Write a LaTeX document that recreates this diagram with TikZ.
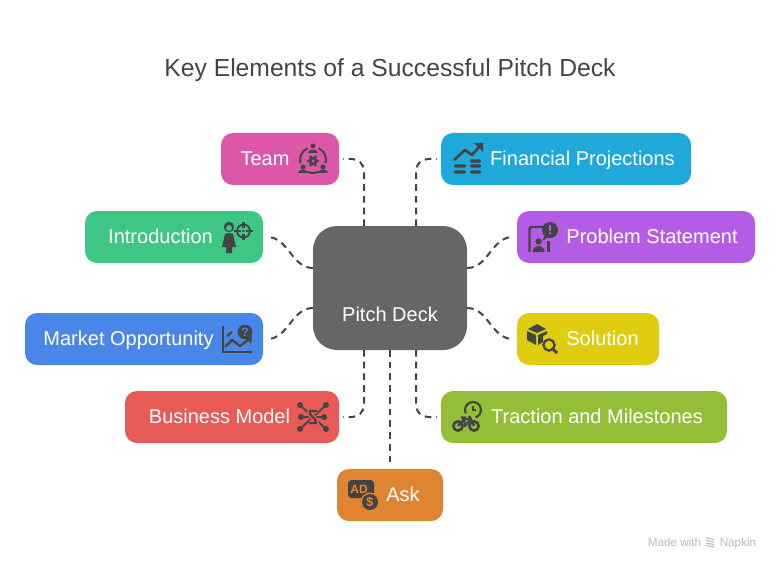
\documentclass[tikz,border=0pt]{standalone}
\usepackage{fontspec}
\setmainfont{Liberation Sans}
\usetikzlibrary{calc,positioning,arrows.meta}
\definecolor{inkc}{HTML}{444444}
\definecolor{deckc}{HTML}{666666}
\definecolor{teamc}{HTML}{DD57A8}
\definecolor{finc}{HTML}{1EA9DA}
\definecolor{introc}{HTML}{3EC685}
\definecolor{probc}{HTML}{B55CE6}
\definecolor{marketc}{HTML}{4A86E8}
\definecolor{solc}{HTML}{E0CD12}
\definecolor{bizc}{HTML}{E85A55}
\definecolor{tracc}{HTML}{94BD38}
\definecolor{askc}{HTML}{DF8431}
\tikzset{
  box/.style={rounded corners=9pt,minimum height=39pt,inner sep=0pt,outer sep=0pt},
  lbl/.style={text=white,font=\fontsize{15pt}{16pt}\selectfont,inner sep=0pt,text height=11pt,text depth=3pt},
  foot/.style={text=black!27,font=\fontsize{8.8pt}{10pt}\selectfont,inner sep=0pt,anchor=base},
  link/.style={draw=inkc,line width=1.5pt,dash pattern=on 5pt off 3.8pt},
  ic/.style={draw=inkc,line width=1.2pt,fill=none},
  icf/.style={fill=inkc,draw=none},
  teamicon/.pic={
    \fill[icf] (0,-13) circle (2.5);
    \draw[ic,line width=1.5pt] (0,1) ++(165:13) arc (165:245:13);
    \draw[ic,line width=1.5pt] (0,1) ++(295:13) arc (295:375:13);
    \draw[ic,line width=1.5pt] (0,1) ++(65:13) arc (65:115:13);
    \fill[icf] (-5,-6) arc (180:360:5 and 3.5) -- cycle;
    \fill[icf,even odd rule] (0,2) circle (4.4) (0,2) circle (1.8);
    \foreach \a in {0,60,...,300} \fill[icf] (0,2) ++(\a:4.9) circle (1.4);
    \fill[icf] (-10,8) circle (2.6) (10,8) circle (2.6);
    \fill[icf] (-15,14) arc (180:360:5 and 3.5) -- cycle;
    \fill[icf] (5,14) arc (180:360:5 and 3.5) -- cycle;
  },
  finicon/.pic={
    \draw[ic,line width=2pt,line join=round] (-13,1) -- (-2,-9) -- (5,-4) -- (12,-12);
    \fill[icf] (7,-16) -- (16,-16) -- (16,-7) -- cycle;
    \foreach \x/\y/\w in {3/2/11,-13/7/12,3/7/11,-13/13/12,3/13/11}
      \fill[icf,rounded corners=1pt] (\x,\y-1.6) rectangle ++(\w,3.2);
  },
  introicon/.pic={
    \fill[icf] (-7,-12) circle (5.2);
    \fill[introc] (-7,-11) circle (3);
    \fill[icf] (-7,-6) -- (-3,-5) -- (0,8) -- (-4,8) -- (-4,14) -- (-10,14) -- (-10,8) -- (-14,8) -- (-11,-5) -- cycle;
    \draw[ic,line width=1.4pt] (7.5,-8) circle (6.5);
    \fill[icf] (7.5,-8) circle (1.4);
    \foreach \a in {0,90,180,270} \draw[ic,line width=1.6pt] (7.5,-8) ++(\a:2.8) -- ++(\a:6.5);
  },
  probicon/.pic={
    \draw[ic,line width=1.8pt,rounded corners=1.5pt] (-12.5,15) -- (-12.5,-10) -- (1,-10);
    \draw[ic,line width=1.8pt] (6.5,4) -- (6.5,15);
    \fill[icf] (-3.5,4.5) circle (3.2);
    \fill[icf] (-9.5,15) arc (180:360:6 and 6) -- cycle;
    \fill[icf] (8,-7) circle (8);
    \fill[icf] (3,-2) -- (0,4) -- (7,0) -- cycle;
    \fill[probc] (7,-12) rectangle (9,-6.5);
    \fill[probc] (8,-3.8) circle (1.2);
  },
  marketicon/.pic={
    \draw[ic,line width=1.8pt] (-15,-13) -- (-15,13) -- (14,13);
    \draw[ic,line width=1.6pt,line join=round] (-13,8) -- (-6,1) -- (2,7) -- (10,1);
    \fill[icf] (7,-2) -- (14,-3) -- (13,5) -- cycle;
    \draw[ic,line width=1.6pt] (-11,-3) -- (-6,-7);
    \fill[icf] (7,-7) circle (7.3);
    \node[text=marketc,font=\bfseries\fontsize{9pt}{9pt}\selectfont,inner sep=0pt] (qmark) at (7,-7) {?};
  },
  bizicon/.pic={
    \foreach \x/\y in {-13/-12,13/-12,-12/0,11/0,-13/12,13/12} {
      \draw[ic,line width=1.3pt] (\x,\y) -- (0,0);
      \fill[icf] (\x,\y) circle (3);
    }
    \draw[bizc,line width=4pt] (4,-6) -- (-3,-6) .. controls (-6,-2) and (5,2) .. (3,6) -- (-4,6);
    \draw[ic,line width=1.6pt] (4,-6) -- (-3,-6) .. controls (-6,-2) and (5,2) .. (3,6) -- (-4,6);
  },
  solicon/.pic={
    \fill[icf] (-12,-10) -- (-3,-15) -- (6,-10) -- (-3,-6) -- cycle;
    \fill[icf] (-13,-8) -- (-4,-4) -- (-4,6) -- (-13,1) -- cycle;
    \fill[icf] (7,-8) -- (-2,-4) -- (-2,6) -- (3,3) -- (3,-3) -- (7,-5) -- cycle;
    \draw[ic,line width=1.7pt] (9,6) circle (5.6);
    \draw[ic,line width=2.2pt] (13,10) -- (17,14);
  },
  tracicon/.pic={
    \draw[ic,line width=2pt] (-8,9) circle (4.6);
    \draw[ic,line width=2pt] (8,9) circle (4.6);
    \draw[ic,line width=1.7pt,line join=round] (-8,9) -- (-2,2) -- (5,2) -- (8,9) (-2,2) -- (-1,9) -- (5,2) (-5,0.5) -- (0,0.5) (3,-1) -- (5,2);
    \draw[ic,line width=1.6pt] (7,-7) ++(155:8) arc (155:430:8);
    \draw[ic,line width=1.2pt] (7,-11) -- (7,-7) -- (10,-7);
  },
  askicon/.pic={
    \fill[icf,rounded corners=2.5pt] (-12,-15) rectangle (14,3);
    \node[text=askc,font=\bfseries\fontsize{9pt}{9pt}\selectfont,inner sep=0pt] (adtext) at (-1,-6) {AD};
    \fill[askc] (10,7) circle (9.5);
    \fill[icf] (10,7) circle (8);
    \node[text=askc,font=\bfseries\fontsize{9.5pt}{9.5pt}\selectfont,inner sep=0pt] (dollar) at (10,7) {\$};
  },
}
\begin{document}
\begin{tikzpicture}[x=0.75pt,y=-0.75pt]
\useasboundingbox (0,0) rectangle (780,570);
\node[text=inkc,font=\fontsize{18.5pt}{20pt}\selectfont] (title) at (390,70.5) {Key Elements of a Successful Pitch Deck};

% boxes
\node[box,fill=deckc,rounded corners=18pt,minimum width=115.5pt,minimum height=93pt] (deck) at (390,288) {};
\node[box,fill=teamc,minimum width=88.5pt] (team) at (280,159) {};
\node[box,fill=finc,minimum width=187.5pt] (fin) at (566,159) {};
\node[box,fill=introc,minimum width=133.5pt] (intro) at (174,237) {};
\node[box,fill=probc,minimum width=178.5pt] (prob) at (636,237) {};
\node[box,fill=marketc,minimum width=178.5pt] (market) at (144,339) {};
\node[box,fill=solc,minimum width=106.5pt] (sol) at (588,339) {};
\node[box,fill=bizc,minimum width=160.5pt] (biz) at (232,417) {};
\node[box,fill=tracc,minimum width=214.5pt] (trac) at (584,417) {};
\node[box,fill=askc,minimum width=79.5pt] (ask) at (390,495) {};

% labels
\node[lbl] (decklbl) at (390,316) {Pitch Deck};
\node[lbl] (teamlbl) at (265,160) {Team};
\node[lbl] (finlbl) at (582.5,160) {Financial Projections};
\node[lbl] (introlbl) at (160.5,238) {Introduction};
\node[lbl] (problbl) at (652,238) {Problem Statement};
\node[lbl] (marketlbl) at (128.5,340) {Market Opportunity};
\node[lbl] (sollbl) at (602.5,340) {Solution};
\node[lbl] (bizlbl) at (219.5,418) {Business Model};
\node[lbl] (traclbl) at (597,418) {Traction and Milestones};
\node[lbl] (asklbl) at (403,496) {Ask};

% icons
\pic at (313,159) {teamicon};
\pic at (467,159) {finicon};
\pic at (236,239) {introicon};
\pic at (542,237) {probicon};
\pic at (238,339) {marketicon};
\pic at (313,417) {bizicon};
\pic at (540,339) {solicon};
\pic at (466,417) {tracicon};
\pic at (360,495) {askicon};

% connectors
\coordinate (deckTL) at ($(deck.north)+(-26,0)$);
\coordinate (deckTR) at ($(deck.north)+(26,0)$);
\coordinate (deckBL) at ($(deck.south)+(-26,0)$);
\coordinate (deckBR) at ($(deck.south)+(26,0)$);
\coordinate (deckWU) at ($(deck.west)+(0,-20)$);
\coordinate (deckWD) at ($(deck.west)+(0,20)$);
\coordinate (deckEU) at ($(deck.east)+(0,-20)$);
\coordinate (deckED) at ($(deck.east)+(0,20)$);
\draw[link,rounded corners=9pt] (deckTL) |- ([xshift=3pt]team.east);
\draw[link,rounded corners=9pt] (deckTR) |- ([xshift=-3pt]fin.west);
\draw[link,rounded corners=9pt] (deckBL) |- ([xshift=3pt]biz.east);
\draw[link,rounded corners=9pt] (deckBR) |- ([xshift=-3pt]trac.west);
\draw[link] (deckWU) to[out=180,in=0] ([xshift=3pt]intro.east);
\draw[link] (deckEU) to[out=0,in=180] ([xshift=-3pt]prob.west);
\draw[link] (deckWD) to[out=180,in=0] ([xshift=3pt]market.east);
\draw[link] (deckED) to[out=0,in=180] ([xshift=-3pt]sol.west);
\draw[link] (deck.south) -- ([yshift=3pt]ask.north);

% footer
\node[foot] (made) at (674.5,546) {Made with};
\node[foot] (napkin) at (738,546) {Napkin};
\foreach \y in {-4,-1.5,1,3.5}
  \draw[black!27,line width=0.8pt] (706,542+\y) -- (714,542+\y+1.5);
\end{tikzpicture}
\end{document}
